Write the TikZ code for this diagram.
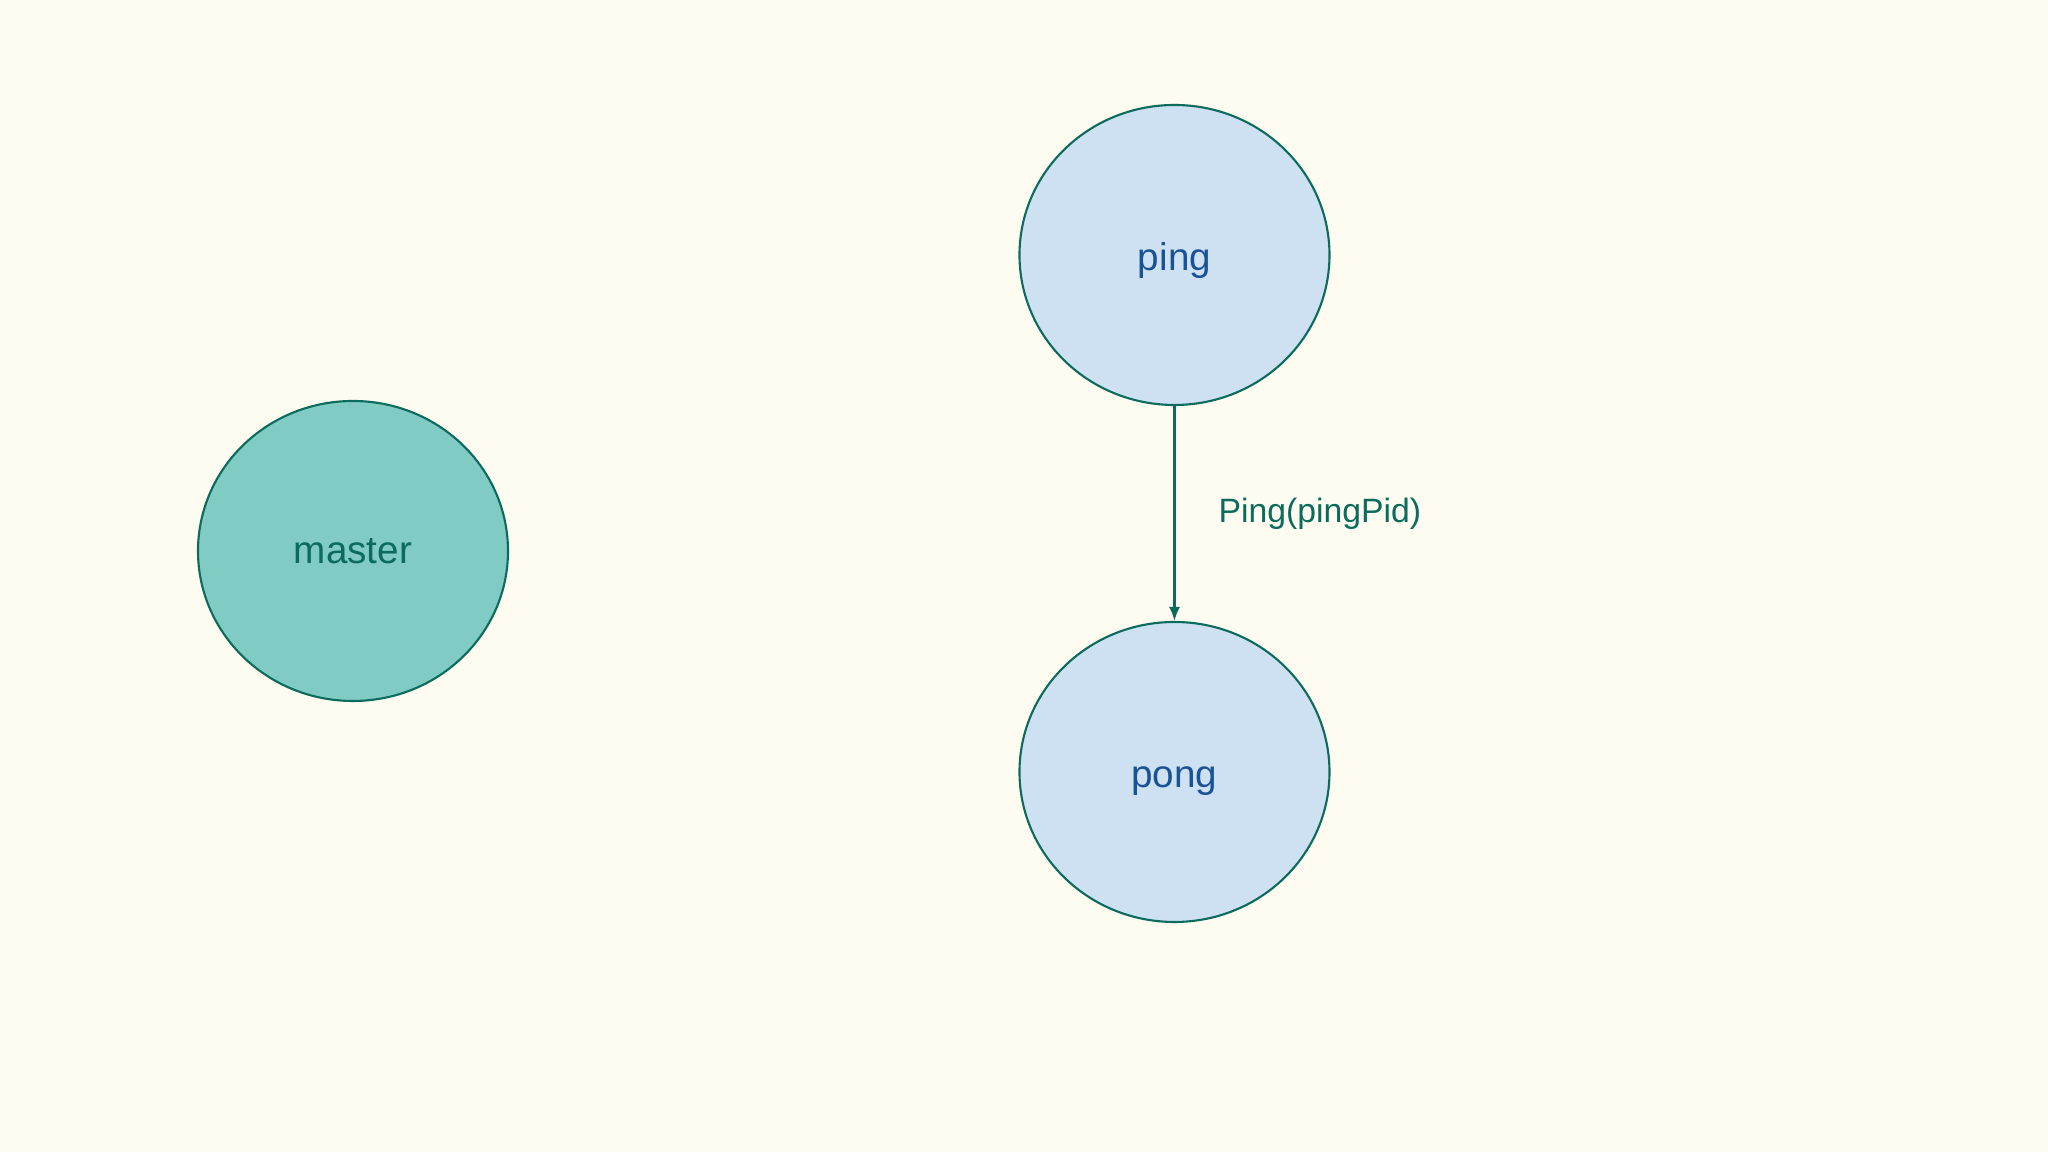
\documentclass[tikz,border=0pt]{standalone}
\usepackage{fontspec}
\setmainfont{Liberation Sans}
\usetikzlibrary{shapes.geometric,arrows.meta}

\definecolor{bgcream}{HTML}{FEFBF0}
\definecolor{tealline}{HTML}{0B6B5C}
\definecolor{tealfill}{HTML}{80CBC3}
\definecolor{bluefill}{HTML}{CEE1F3}
\definecolor{bluetext}{HTML}{1A5296}

\tikzset{
  proc/.style={ellipse,draw=tealline,line width=0.6pt,inner sep=0pt,
    minimum width=3.1cm,minimum height=3.0cm,font=\fontsize{11}{13}\selectfont},
  bluenode/.style={proc,fill=bluefill,text=bluetext,text height=0.88em,text depth=0pt},
  msg/.style={->,>={Latex[length=1.4mm,width=1.1mm]},draw=tealline,line width=0.6pt}
}

\begin{document}
\begin{tikzpicture}
    \fill[bgcream] (0,0) rectangle (20.48,11.52);
    \useasboundingbox (0,0) rectangle (20.48,11.52);

    \node[proc,fill=tealfill,text=tealline] (master) at (3.53,6.01) {master};
    \node[bluenode] (ping) at (11.745,8.97) {ping};
    \node[bluenode] (pong) at (11.745,3.80) {pong};

    \draw[msg] (ping) -- (pong);

    \node[anchor=base west,inner sep=0pt,text=tealline,font=\fontsize{9.6}{11}\selectfont]
      (pinglbl) at (12.18,6.29) {Ping(pingPid)};
  \end{tikzpicture}
\end{document}
